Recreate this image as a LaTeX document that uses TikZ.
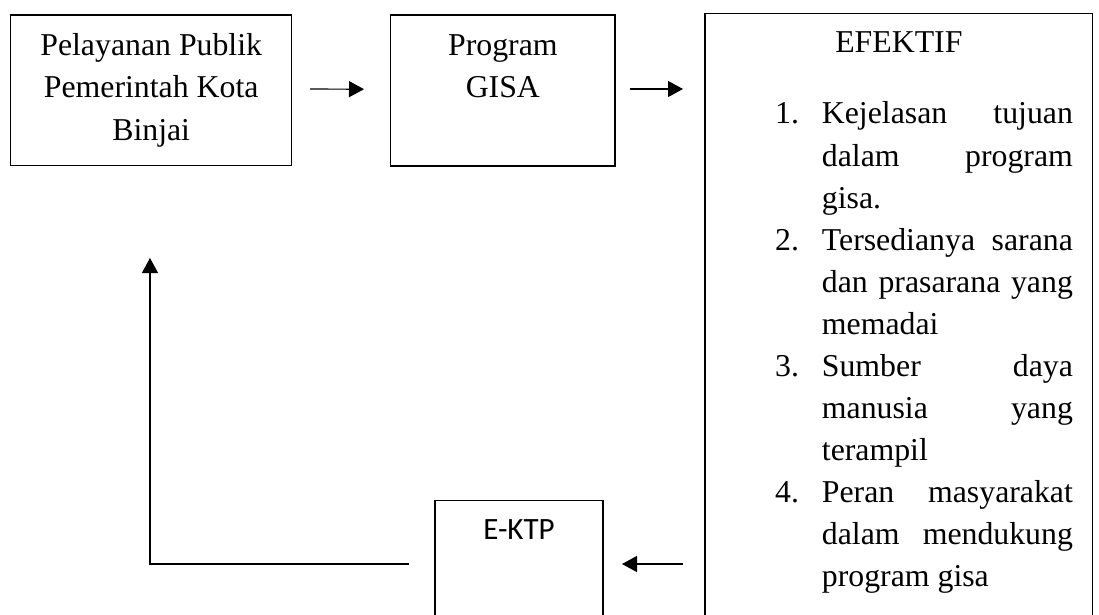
\documentclass[tikz,border=0pt]{standalone}
\usepackage{fontspec}
\setmainfont{Liberation Serif}
\newfontfamily\calfont{Carlito}
\usetikzlibrary{arrows.meta}
\tikzset{
  boxstyle/.style={draw, line width=1.5pt, inner sep=0pt, outer sep=0pt},
  txt/.style={font=\fontsize{31.8}{42}\selectfont, inner sep=0pt, anchor=base},
  lefttxt/.style={txt, anchor=base west},
  arr/.style={line width=1.2pt, -{Triangle[length=15pt,width=16pt]}},
}
\begin{document}
\begin{tikzpicture}[x=1pt,y=-1pt]
\clip (0,0) rectangle (1099,615);
\fill[white] (0,0) rectangle (1099,615);
% boxes
\node[boxstyle, minimum width=281, minimum height=150.7] (b1) at (151.2,90.35) {};
\node[boxstyle, minimum width=224.3, minimum height=151] (b2) at (502.85,90.5) {};
\node[boxstyle, minimum width=387.7, minimum height=626.7] (b3) at (898.85,326.65) {};
\node[boxstyle, minimum width=168, minimum height=139.3] (k) at (519,570.35) {};
% box texts
\node[txt] (b1l1) at (151.2,56) {Pelayanan Publik};
\node[txt] (b1l2) at (151.2,98) {Pemerintah Kota};
\node[txt] (b1l3) at (151.2,140) {Binjai};
\node[txt] (b2l1) at (502.85,56) {Program};
\node[txt] (b2l2) at (502.85,98) {GISA};
\node[txt] (ef) at (898.85,53) {EFEKTIF};
\node[txt, font=\calfont\fontsize{31}{36}\selectfont] (kt) at (519,539) {E-KTP};
% list
\node[lefttxt] (n1) at (775,124) {1.};
\node[lefttxt] (l1) at (821.7,124) {\makebox[251pt][s]{Kejelasan tujuan}};
\node[lefttxt] (l2) at (821.7,166) {\makebox[251pt][s]{dalam program}};
\node[lefttxt] (l3) at (821.7,208) {gisa.};
\node[lefttxt] (n2) at (775,250) {2.};
\node[lefttxt] (l4) at (821.7,250) {\makebox[251pt][s]{Tersedianya sarana}};
\node[lefttxt] (l5) at (821.7,292) {\makebox[251pt][s]{dan prasarana yang}};
\node[lefttxt] (l6) at (821.7,334) {memadai};
\node[lefttxt] (n3) at (775,376) {3.};
\node[lefttxt] (l7) at (821.7,376) {\makebox[251pt][s]{Sumber daya}};
\node[lefttxt] (l8) at (821.7,418) {\makebox[251pt][s]{manusia yang}};
\node[lefttxt] (l9) at (821.7,460) {terampil};
\node[lefttxt] (n4) at (775,502) {4.};
\node[lefttxt] (l10) at (821.7,502) {\makebox[251pt][s]{Peran masyarakat}};
\node[lefttxt] (l11) at (821.7,544) {\makebox[251pt][s]{dalam mendukung}};
\node[lefttxt] (l12) at (821.7,586) {program gisa};
% connectors
\coordinate (p2) at (b3.west |- b2.east);
\coordinate (m) at ([yshift=6.35pt]k.west);
\coordinate (p4) at (b3.west |- m);
\coordinate (fbtip) at (150,258);
\draw[arr] ([xshift=18.3pt,yshift=1.3pt]b1.east) -- ([xshift=-26.7pt,yshift=1.3pt]b2.west);
\draw[arr] ([xshift=15pt,yshift=1.5pt]b2.east) -- ([xshift=-22pt,yshift=1.5pt]p2);
\draw[arr] ([xshift=-22pt]p4) -- ([xshift=19pt,yshift=6.35pt]k.east);
\draw[arr] ([xshift=-26pt]m) -| (fbtip);
\end{tikzpicture}
\end{document}
